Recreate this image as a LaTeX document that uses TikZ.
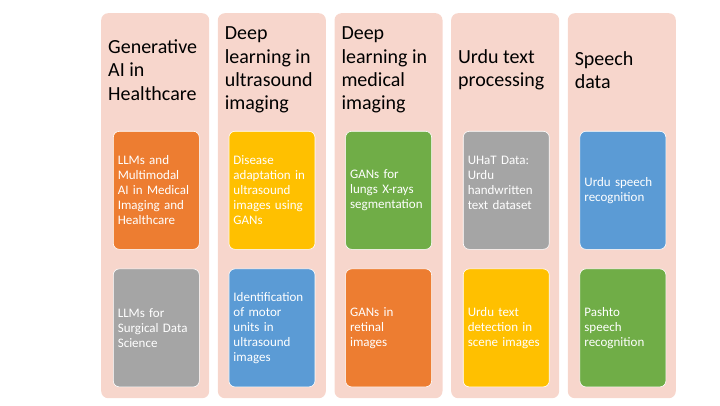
\documentclass[tikz,border=0pt]{standalone}
\usepackage{fontspec}
\setmainfont{Carlito}
\usetikzlibrary{positioning}
\definecolor{colpink}{HTML}{F7D6CC}
\definecolor{boxorange}{HTML}{ED7D31}
\definecolor{boxgray}{HTML}{A5A5A5}
\definecolor{boxyellow}{HTML}{FFC000}
\definecolor{boxblue}{HTML}{5B9BD5}
\definecolor{boxgreen}{HTML}{70AD47}
\begin{document}
\begin{tikzpicture}[x=1pt,y=1pt,
  column/.style={anchor=north west, fill=colpink, rounded corners=7pt, minimum width=108pt, minimum height=385pt, inner sep=0pt},
  header/.style={anchor=west, align=left, inner sep=0pt, font=\fontsize{20}{23.2}\selectfont},
  topic/.style={anchor=north west, draw=white, line width=0.6pt, rounded corners=6pt, text width=77pt, inner xsep=4.5pt, minimum height=118pt, align=left, text=white, font=\fontsize{13}{15}\selectfont}]
\useasboundingbox (0,0) rectangle (720,405);

\node [column] (gen) at (101,392) {};
\node [column] (ultra) at ([xshift=8.25pt]gen.north east) {};
\node [column] (med) at ([xshift=8.25pt]ultra.north east) {};
\node [column] (urdu) at ([xshift=8.25pt]med.north east) {};
\node [column] (speech) at ([xshift=8.25pt]urdu.north east) {};

\node [header] (genhead) at ([xshift=7pt,yshift=-57pt]gen.north west) {Generative\\AI in\\Healthcare};
\node [header] (ultrahead) at ([xshift=7pt,yshift=-57pt]ultra.north west) {Deep\\learning in\\ultrasound\\imaging};
\node [header] (medhead) at ([xshift=7pt,yshift=-57pt]med.north west) {Deep\\learning in\\medical\\imaging};
\node [header] (urduhead) at ([xshift=7pt,yshift=-57pt]urdu.north west) {Urdu text\\processing};
\node [header] (speechhead) at ([xshift=7pt,yshift=-57pt]speech.north west) {Speech\\data};

\node [topic, fill=boxorange] (llm) at ([xshift=12pt,yshift=-118pt]gen.north west) {LLMs and\\Multimodal\\AI in Medical\\Imaging and\\Healthcare};
\node [topic, fill=boxgray] (surg) at ([yshift=-19pt]llm.south west) {LLMs for\\Surgical Data\\Science};

\node [topic, fill=boxyellow] (disease) at ([xshift=11pt,yshift=-118pt]ultra.north west) {Disease\\adaptation in\\ultrasound\\images using\\GANs};
\node [topic, fill=boxblue] (motor) at ([yshift=-19pt]disease.south west) {Identification\\of motor\\units in\\ultrasound\\images};

\node [topic, fill=boxgreen] (lungs) at ([xshift=11pt,yshift=-118pt]med.north west) {GANs for\\lungs X-rays\\segmentation};
\node [topic, fill=boxorange] (retina) at ([yshift=-19pt]lungs.south west) {GANs in\\retinal\\images};

\node [topic, fill=boxgray] (uhat) at ([xshift=12pt,yshift=-118pt]urdu.north west) {UHaT Data:\\Urdu\\handwritten\\text dataset\\\mbox{}};
\node [topic, fill=boxyellow] (scene) at ([yshift=-19pt]uhat.south west) {Urdu text\\detection in\\scene images};

\node [topic, fill=boxblue] (urduasr) at ([xshift=12pt,yshift=-118pt]speech.north west) {Urdu speech\\recognition};
\node [topic, fill=boxgreen] (pashto) at ([yshift=-19pt]urduasr.south west) {Pashto\\speech\\recognition};
\end{tikzpicture}
\end{document}
